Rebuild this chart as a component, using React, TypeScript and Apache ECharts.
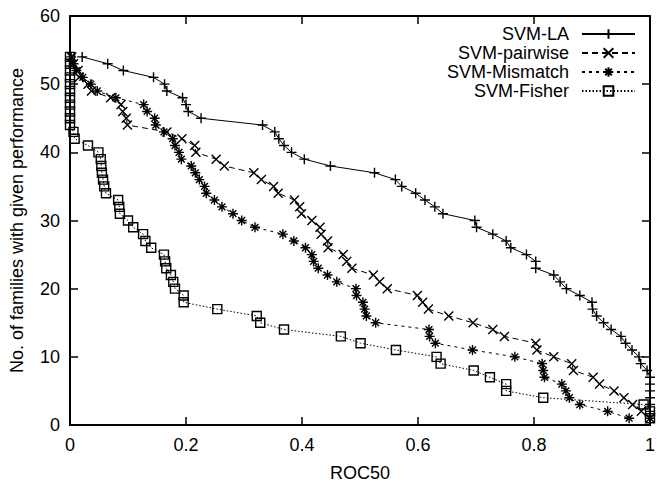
import React, { useEffect, useRef } from "react";
import * as echarts from "echarts";

const seriesNames = ["SVM-LA", "SVM-pairwise", "SVM-Mismatch", "SVM-Fisher"];

const laX = [0.021, 0.065, 0.092, 0.144, 0.163, 0.167, 0.194, 0.2, 0.204, 0.226, 0.332, 0.353, 0.36, 0.369, 0.382, 0.404, 0.449, 0.525, 0.561, 0.572, 0.596, 0.612, 0.629, 0.643, 0.698, 0.701, 0.729, 0.752, 0.76, 0.787, 0.803, 0.803, 0.834, 0.845, 0.856, 0.879, 0.9, 0.901, 0.908, 0.92, 0.933, 0.95, 0.958, 0.969, 0.981, 0.984, 0.995, 1.0, 1.0, 1.0, 1.0, 1.0, 1.0, 1.0];
const laY = [54, 53, 52, 51, 50, 49, 48, 47, 46, 45, 44, 43, 42, 41, 40, 39, 38, 37, 36, 35, 34, 33, 32, 31, 30, 29, 28, 27, 26, 25, 24, 23, 22, 21, 20, 19, 18, 17, 16, 15, 14, 13, 12, 11, 10, 9, 8, 7, 6, 5, 4, 3, 2, 1];

const pairX = [0.003, 0.006, 0.014, 0.016, 0.031, 0.037, 0.07, 0.088, 0.091, 0.097, 0.099, 0.167, 0.193, 0.215, 0.217, 0.252, 0.266, 0.317, 0.33, 0.351, 0.359, 0.387, 0.396, 0.399, 0.417, 0.431, 0.433, 0.444, 0.445, 0.471, 0.477, 0.486, 0.523, 0.534, 0.547, 0.599, 0.608, 0.618, 0.653, 0.695, 0.729, 0.749, 0.803, 0.805, 0.834, 0.865, 0.868, 0.902, 0.913, 0.938, 0.955, 0.97, 0.985, 1.0];
const pairY = [54, 53, 52, 51, 50, 49, 48, 47, 46, 45, 44, 43, 42, 41, 40, 39, 38, 37, 36, 35, 34, 33, 32, 31, 30, 29, 28, 27, 26, 25, 24, 23, 22, 21, 20, 19, 18, 17, 16, 15, 14, 13, 12, 11, 10, 9, 8, 7, 6, 5, 4, 3, 2, 1];

const misX = [0.002, 0.006, 0.011, 0.022, 0.036, 0.047, 0.079, 0.127, 0.133, 0.146, 0.148, 0.162, 0.177, 0.181, 0.188, 0.192, 0.209, 0.216, 0.223, 0.232, 0.235, 0.249, 0.262, 0.281, 0.296, 0.319, 0.367, 0.386, 0.406, 0.417, 0.42, 0.428, 0.444, 0.46, 0.493, 0.494, 0.505, 0.508, 0.511, 0.527, 0.619, 0.62, 0.63, 0.694, 0.767, 0.814, 0.816, 0.818, 0.848, 0.855, 0.861, 0.879, 0.927, 0.964];
const misY = [54, 53, 52, 51, 50, 49, 48, 47, 46, 45, 44, 43, 42, 41, 40, 39, 38, 37, 36, 35, 34, 33, 32, 31, 30, 29, 28, 27, 26, 25, 24, 23, 22, 21, 20, 19, 18, 17, 16, 15, 14, 13, 12, 11, 10, 9, 8, 7, 6, 5, 4, 3, 2, 1];

const fishX = [0, 0, 0, 0, 0, 0, 0, 0, 0, 0, 0, 0.006, 0.008, 0.031, 0.049, 0.053, 0.054, 0.055, 0.057, 0.059, 0.062, 0.083, 0.085, 0.086, 0.1, 0.109, 0.126, 0.13, 0.14, 0.162, 0.164, 0.166, 0.174, 0.178, 0.181, 0.196, 0.196, 0.254, 0.322, 0.328, 0.369, 0.467, 0.501, 0.562, 0.632, 0.639, 0.696, 0.724, 0.752, 0.752, 0.816, 0.989, 1.0, 1.0];
const fishY = [54, 53, 52, 51, 50, 49, 48, 47, 46, 45, 44, 43, 42, 41, 40, 39, 38, 37, 36, 35, 34, 33, 32, 31, 30, 29, 28, 27, 26, 25, 24, 23, 22, 21, 20, 19, 18, 17, 16, 15, 14, 13, 12, 11, 10, 9, 8, 7, 6, 5, 4, 3, 2, 1];

const xTickLabels = ["0", "0.2", "0.4", "0.6", "0.8", "1"];
const yTickLabels = ["0", "10", "20", "30", "40", "50", "60"];

const PLUS = "path://M0,5L10,5M5,0L5,10";
const CROSS = "path://M0,0L10,10M0,10L10,0";
const STAR = "path://M0,5L10,5M5,0L5,10M1.6,1.6L8.4,8.4M1.6,8.4L8.4,1.6";
const BOX = "path://M0,0L10,0L10,10L0,10Z";

const FONT = "'Liberation Sans', Arial, Helvetica, sans-serif";
const FS = 18;

function pairs(xs: number[], ys: number[]) {
  return xs.map((x, i) => [x, ys[i]]);
}

export default function App() {
  const ref = useRef<HTMLDivElement>(null);
  useEffect(() => {
    if (!ref.current) return;
    const chart = echarts.init(ref.current, null, { renderer: "svg" });
    const mk = (
      name: string,
      data: number[][],
      symbol: string,
      size: number,
      dash: any
    ) => ({
      name,
      type: "line",
      data,
      symbol,
      symbolSize: size,
      showSymbol: true,
      clip: false,
      silent: true,
      lineStyle: { color: "#000", width: 1, type: dash },
      itemStyle: { color: "rgba(0,0,0,0)", borderColor: "#000", borderWidth: 1.4 },
    });
    const axisCommonX = {
      type: "value",
      min: 0,
      max: 1,
      interval: 0.2,
      splitLine: { show: false },
      axisLine: { onZero: false, lineStyle: { color: "#000", width: 2 } },
      axisTick: { inside: true, length: 8, lineStyle: { color: "#000", width: 1.5 } },
    };
    const axisCommonY = {
      type: "value",
      min: 0,
      max: 60,
      interval: 10,
      splitLine: { show: false },
      axisLine: { onZero: false, lineStyle: { color: "#000", width: 2 } },
      axisTick: { inside: true, length: 8, lineStyle: { color: "#000", width: 1.5 } },
    };
    chart.setOption({
      animation: false,
      backgroundColor: "#fff",
      textStyle: { fontFamily: FONT },
      grid: { left: 68, right: 1, top: 16, bottom: 57 },
      legend: {
        orient: "vertical",
        right: 17,
        top: 20,
        align: "right",
        itemWidth: 53,
        itemHeight: 12,
        itemGap: 1,
        selectedMode: false,
        data: seriesNames,
        textStyle: { fontSize: FS, color: "#000", fontFamily: FONT, padding: [0, 8, 0, 0] },
      },
      xAxis: [
        {
          ...axisCommonX,
          position: "bottom",
          name: "ROC50",
          nameLocation: "middle",
          nameGap: 39,
          nameTextStyle: { fontSize: FS, color: "#000", fontFamily: FONT },
          axisLabel: {
            fontSize: FS,
            color: "#000",
            fontFamily: FONT,
            margin: 11,
            formatter: (v: number) => xTickLabels[Math.round(v / 0.2)],
          },
        },
        { ...axisCommonX, position: "top", axisLabel: { show: false } },
      ],
      yAxis: [
        {
          ...axisCommonY,
          position: "left",
          name: "No. of families with given performance",
          nameLocation: "middle",
          nameGap: 44,
          nameTextStyle: { fontSize: FS, color: "#000", fontFamily: FONT },
          axisLabel: {
            fontSize: FS,
            color: "#000",
            fontFamily: FONT,
            margin: 10,
            formatter: (v: number) => yTickLabels[Math.round(v / 10)],
          },
        },
        { ...axisCommonY, position: "right", axisLabel: { show: false } },
      ],
      series: [
        mk(seriesNames[0], pairs(laX, laY), PLUS, 10, "solid"),
        mk(seriesNames[1], pairs(pairX, pairY), CROSS, 9, [6, 4]),
        mk(seriesNames[2], pairs(misX, misY), STAR, 10, [3, 4]),
        mk(seriesNames[3], pairs(fishX, fishY), BOX, 9, [1.5, 2]),
      ],
    });
    return () => chart.dispose();
  }, []);
  return (
    <div
      ref={ref}
      style={{ position: "absolute", left: 0, top: 0, width: 658, height: 487, background: "#fff" }}
    />
  );
}
